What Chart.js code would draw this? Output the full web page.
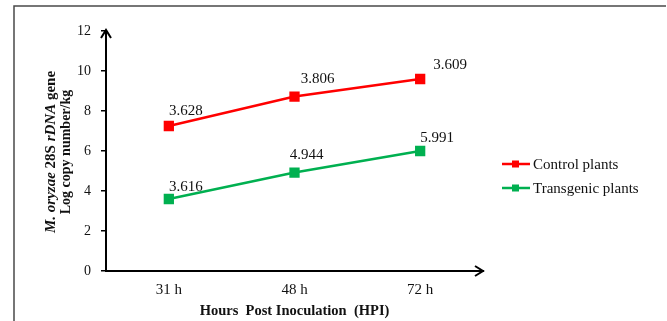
<!DOCTYPE html>
<html>
<head>
<meta charset="utf-8">
<script src="https://cdn.jsdelivr.net/npm/chart.js@4/dist/chart.umd.min.js"></script>
<style>
  html, body { margin: 0; padding: 0; background: #fff; }
  #wrap { width: 667px; height: 321px; }
</style>
</head>
<body>
<div id="wrap"><canvas id="chart" width="667" height="321"></canvas></div>
<script>
// Rice blast (M. oryzae) rDNA copy number, control vs transgenic plants.

const hours = ["31 h", "48 h", "72 h"];
const controlValues = [7.25, 8.72, 9.6];
const transgenicValues = [3.6, 4.92, 6.0];
const controlLabels = ["3.628", "3.806", "3.609"];
const transgenicLabels = ["3.616", "4.944", "5.991"];
const yMin = 0, yMax = 12, yStep = 2;

const SERIF = '"Liberation Serif", "Times New Roman", serif';
const RED = "#ff0000";
const GREEN = "#00b050";
const INK = "#111";

// where each value label sits relative to its point (styling only)
const labelOffsets = [
  [[17, -15], [23, -18], [30, -14]],
  [[17, -12], [12, -18], [17, -13]],
];
const pointLabels = [controlLabels, transgenicLabels];

// outer frame (top + left edge only, like the cropped figure)
const framePlugin = {
  id: "frame",
  beforeDraw(chart) {
    const ctx = chart.ctx;
    ctx.save();
    ctx.fillStyle = "#fff";
    ctx.fillRect(0, 0, chart.width, chart.height);
    ctx.strokeStyle = "#4a4a4a";
    ctx.lineWidth = 1.5;
    ctx.beginPath();
    ctx.moveTo(14, chart.height);
    ctx.lineTo(14, 6);
    ctx.lineTo(chart.width - 1, 6);
    ctx.stroke();
    ctx.restore();
  },
};

const extrasPlugin = {
  id: "extras",
  afterDraw(chart) {
    const ctx = chart.ctx;
    const { left, right, top, bottom } = chart.chartArea;
    ctx.save();

    // arrow heads on the axes
    ctx.strokeStyle = "#000";
    ctx.lineWidth = 2;
    ctx.beginPath();
    ctx.moveTo(left - 5, top + 7);
    ctx.lineTo(left, top - 1);
    ctx.lineTo(left + 5, top + 7);
    ctx.moveTo(right - 8, bottom - 5);
    ctx.lineTo(right, bottom);
    ctx.lineTo(right - 8, bottom + 5);
    ctx.stroke();

    // value labels
    ctx.fillStyle = INK;
    ctx.font = `15px ${SERIF}`;
    ctx.textAlign = "center";
    ctx.textBaseline = "middle";
    chart.data.datasets.forEach((ds, i) => {
      chart.getDatasetMeta(i).data.forEach((pt, j) => {
        const [dx, dy] = labelOffsets[i][j];
        ctx.fillText(pointLabels[i][j], pt.x + dx, pt.y + dy);
      });
    });

    // legend
    ctx.textAlign = "left";
    chart.data.datasets.forEach((ds, i) => {
      const y = 164 + i * 24;
      ctx.strokeStyle = ds.borderColor;
      ctx.lineWidth = 2.5;
      ctx.beginPath();
      ctx.moveTo(502, y);
      ctx.lineTo(530, y);
      ctx.stroke();
      ctx.fillStyle = ds.borderColor;
      ctx.fillRect(512, y - 3.5, 7, 7);
      ctx.fillStyle = INK;
      ctx.fillText(ds.label, 533, y + 1);
    });

    // y axis title, two rotated lines with italic parts
    const lines = [
      { size: 15, parts: [["M. oryzae", "italic bold"], [" 28S ", "bold"], ["rDNA", "italic bold"], [" gene", "bold"]] },
      { size: 14, parts: [["Log copy number/kg", "bold"]] },
    ];
    const cy = (top + bottom) / 2 + 1;
    [51, 66].forEach((x, k) => {
      const { size, parts } = lines[k];
      ctx.save();
      ctx.translate(x, cy);
      ctx.rotate(-Math.PI / 2);
      ctx.fillStyle = INK;
      ctx.textBaseline = "middle";
      ctx.textAlign = "left";
      let total = 0;
      parts.forEach(([t, s]) => {
        ctx.font = `${s} ${size}px ${SERIF}`;
        total += ctx.measureText(t).width;
      });
      let cx = -total / 2;
      parts.forEach(([t, s]) => {
        ctx.font = `${s} ${size}px ${SERIF}`;
        ctx.fillText(t, cx, 0);
        cx += ctx.measureText(t).width;
      });
      ctx.restore();
    });

    ctx.restore();
  },
};

new Chart(document.getElementById("chart"), {
  type: "line",
  data: {
    labels: hours,
    datasets: [
      {
        label: "Control plants",
        data: controlValues,
        borderColor: RED,
        backgroundColor: RED,
        borderWidth: 2.5,
        pointStyle: "rect",
        pointRadius: 5.5,
        pointHoverRadius: 5.5,
        tension: 0,
      },
      {
        label: "Transgenic plants",
        data: transgenicValues,
        borderColor: GREEN,
        backgroundColor: GREEN,
        borderWidth: 2.5,
        pointStyle: "rect",
        pointRadius: 5.5,
        pointHoverRadius: 5.5,
        tension: 0,
      },
    ],
  },
  options: {
    responsive: false,
    devicePixelRatio: 1,
    animation: false,
    layout: { padding: { left: 0, top: 31, right: 184, bottom: 0 } },
    plugins: {
      legend: { display: false },
      tooltip: { enabled: false },
    },
    scales: {
      x: {
        offset: true,
        grid: { display: true, drawOnChartArea: false, drawTicks: false },
        border: { color: "#000", width: 2 },
        ticks: { color: INK, padding: 10, font: { family: SERIF, size: 15 } },
        title: {
          display: true,
          text: "Hours  Post Inoculation  (HPI)",
          color: INK,
          font: { family: SERIF, size: 14.5, weight: "bold" },
          padding: { top: 0, bottom: 1 },
        },
        afterFit: (s) => { s.height = 50; },
      },
      y: {
        min: yMin,
        max: yMax,
        grid: { drawOnChartArea: false, drawTicks: true, tickLength: 5, color: "#000", lineWidth: 1.5 },
        border: { color: "#000", width: 2 },
        ticks: { stepSize: yStep, color: INK, padding: 10, font: { family: SERIF, size: 14 } },
        afterFit: (s) => { s.width = 106; },
      },
    },
  },
  plugins: [framePlugin, extrasPlugin],
});
</script>
</body>
</html>
